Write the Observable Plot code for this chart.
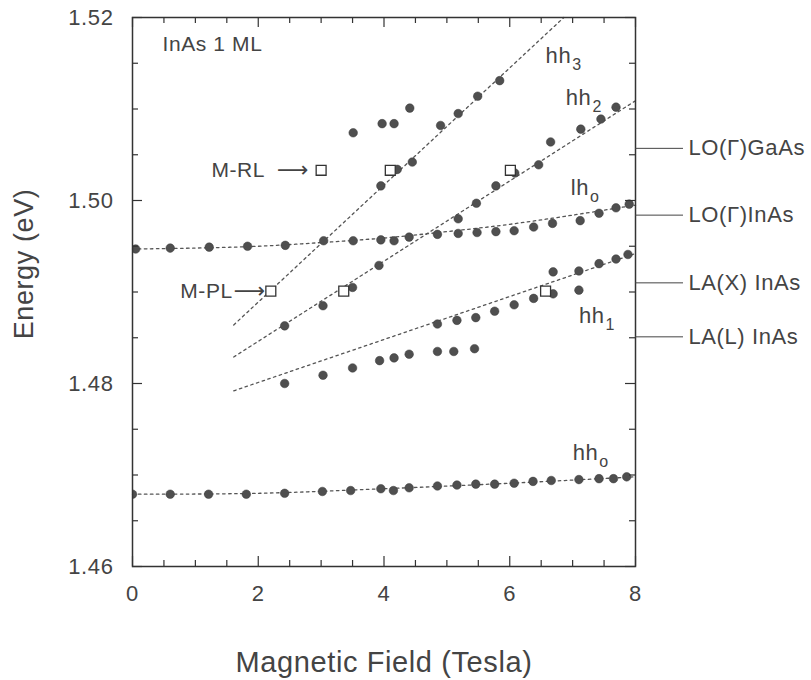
<!DOCTYPE html>
<html>
<head>
<meta charset="utf-8">
<script src="https://cdn.jsdelivr.net/npm/d3@7"></script>
<script src="https://cdn.jsdelivr.net/npm/@observablehq/plot@0.6"></script>
<style>
  body { margin: 0; background: #fff; }
</style>
</head>
<body>
<div id="chart"></div>
<script>
// ---- data ----
const hh0B = [0, 0.60, 1.21, 1.81, 2.42, 3.02, 3.47, 3.95, 4.15, 4.40, 4.85, 5.16, 5.46, 5.76, 6.07, 6.37, 6.66, 7.10, 7.42, 7.65, 7.86];
const hh0E = [1.4679, 1.4679, 1.4679, 1.4679, 1.4680, 1.4682, 1.4683, 1.4685, 1.4683, 1.4686, 1.4688, 1.4689, 1.4690, 1.4690, 1.4691, 1.4693, 1.4694, 1.4695, 1.4696, 1.4696, 1.4698];

const lh0B = [0.05, 0.60, 1.22, 1.83, 2.43, 3.04, 3.51, 3.95, 4.16, 4.40, 4.85, 5.18, 5.48, 5.78, 6.07, 6.38, 6.68, 7.12, 7.42, 7.69, 7.90];
const lh0E = [1.4947, 1.4948, 1.4949, 1.4950, 1.4951, 1.4956, 1.4956, 1.4957, 1.4956, 1.4960, 1.4963, 1.4964, 1.4965, 1.4966, 1.4967, 1.4971, 1.4975, 1.4978, 1.4986, 1.4992, 1.4996];

const hh1B = [2.42, 3.03, 3.50, 3.93, 4.16, 4.40, 4.85, 5.11, 5.44,
              4.85, 5.16, 5.46, 5.76, 6.07, 6.38, 6.69, 6.69, 7.10, 7.10, 7.42, 7.69, 7.88];
const hh1E = [1.4800, 1.4809, 1.4817, 1.4825, 1.4828, 1.4832, 1.4835, 1.4835, 1.4838,
              1.4865, 1.4869, 1.4872, 1.4879, 1.4886, 1.4893, 1.4898, 1.4922, 1.4902, 1.4923, 1.4931, 1.4936, 1.4941];

const hh2B = [2.42, 3.03, 3.50, 3.92, 5.18, 5.47, 5.78, 6.08, 6.46, 6.65, 7.13, 7.45, 7.69];
const hh2E = [1.4863, 1.4885, 1.4905, 1.4929, 1.4980, 1.4997, 1.5016, 1.5030, 1.5039, 1.5064, 1.5078, 1.5089, 1.5102];

const hh3B = [3.95, 4.21, 4.45, 4.90, 5.18, 5.49, 5.84, 3.51, 3.97, 4.16, 4.41];
const hh3E = [1.5016, 1.5034, 1.5042, 1.5082, 1.5095, 1.5114, 1.5131, 1.5074, 1.5084, 1.5084, 1.5101];

// open squares: magneto-reflectance and magneto-PL resonances
const mrlB = [3.00, 4.10, 6.01];
const mrlE = [1.5033, 1.5033, 1.5033];
const mplB = [2.20, 3.36, 6.57];
const mplE = [1.4901, 1.4901, 1.4901];

// dotted fit curves
const hh0FitB = [0, 2, 4, 6, 8];
const hh0FitE = [1.4679, 1.4680, 1.4685, 1.4691, 1.4698];
const lh0FitB = [0, 1, 2, 3, 4, 5, 6, 7, 8];
const lh0FitE = [1.4947, 1.4948, 1.4950, 1.4954, 1.4959, 1.4966, 1.4974, 1.4984, 1.4995];
const hh1FitB = [1.61, 8];
const hh1FitE = [1.4792, 1.4942];
const hh2FitB = [1.61, 8];
const hh2FitE = [1.4829, 1.5109];
const hh3FitB = [1.61, 6.86];
const hh3FitE = [1.4864, 1.5200];

// phonon reference levels (right side)
const phononNames = ["LO(Γ)GaAs", "LO(Γ)InAs", "LA(X) InAs", "LA(L) InAs"];
const phononE = [1.5057, 1.4984, 1.4910, 1.4851];

// curve labels
const curveBase = ["hh", "hh", "lh", "hh", "hh"];
const curveSub = ["3", "2", "o", "1", "o"];
const curveLabB = [6.57, 6.89, 6.97, 7.10, 7.00];
const curveLabE = [1.5158, 1.5112, 1.5014, 1.4874, 1.4724];

// annotations (attached to the first square of each set)
const annotText = ["M-RL", "M-PL"];
const annotArrow = "⟶";
const annotB = [mrlB[0], mplB[0]];
const annotE = [mrlE[0], mplE[0]];
const annotTextDx = [-56, -38];
const annotArrowDx = [-12, -5];

// axes
const xTicks = [0, 2, 4, 6, 8];
const xMinor = [0.5, 1, 1.5, 2.5, 3, 3.5, 4.5, 5, 5.5, 6.5, 7, 7.5];
const yTicks = [1.46, 1.48, 1.50, 1.52];
const yMinor = [1.465, 1.47, 1.475, 1.485, 1.49, 1.495, 1.505, 1.51, 1.515];
const xTitle = "Magnetic Field (Tesla)";
const yTitle = "Energy (eV)";
const sampleLabel = "InAs 1 ML";

// ---- layout ----
const W = 811, H = 680;
const mL = 132, mR = 176, mT = 17, mB = 114;
const innerW = W - mL - mR, innerH = H - mT - mB;

const rows = (bs, es) => bs.map((b, i) => ({B: b, E: es[i]}));
const ink = "#444";
const dotFill = "#4f4f4f";
const fit = {x: "B", y: "E", stroke: "#555", strokeWidth: 1.3, strokeDasharray: "2.5,3.5"};
const dotOpts = {x: "B", y: "E", r: 4.3, fill: dotFill, stroke: "#3a3a3a", strokeWidth: 0.5, clip: true};
const tickStyle = {stroke: "#333", strokeWidth: 1.2};

const phononRows = phononNames.map((n, i) => ({name: n, E: phononE[i]}));
const curveRows = curveBase.map((t, i) => ({t, B: curveLabB[i], E: curveLabE[i]}));
const annotRows = annotText.map((t, i) => ({t, B: annotB[i], E: annotE[i]}));

const svg = Plot.plot({
  width: W, height: H,
  marginLeft: mL, marginRight: mR, marginTop: mT, marginBottom: mB,
  x: {domain: [0, 8]},
  y: {domain: [1.46, 1.52]},
  style: {fontFamily: "'Liberation Sans', Arial, sans-serif", fontSize: "21px", color: ink, background: "#fff", letterSpacing: "0.6px"},
  marks: [
    // fits
    Plot.line(rows(hh0FitB, hh0FitE), {...fit, curve: "catmull-rom"}),
    Plot.line(rows(lh0FitB, lh0FitE), {...fit, curve: "catmull-rom"}),
    Plot.line(rows(hh1FitB, hh1FitE), fit),
    Plot.line(rows(hh2FitB, hh2FitE), fit),
    Plot.line(rows(hh3FitB, hh3FitE), fit),
    // data
    Plot.dot(rows(hh0B, hh0E), dotOpts),
    Plot.dot(rows(lh0B, lh0E), dotOpts),
    Plot.dot(rows(hh1B, hh1E), dotOpts),
    Plot.dot(rows(hh2B, hh2E), dotOpts),
    Plot.dot(rows(hh3B, hh3E), dotOpts),
    Plot.dot(rows(mrlB, mrlE), {x: "B", y: "E", symbol: "square", r: 5.6, fill: "#fff", stroke: "#333", strokeWidth: 1.3}),
    Plot.dot(rows(mplB, mplE), {x: "B", y: "E", symbol: "square", r: 5.6, fill: "#fff", stroke: "#333", strokeWidth: 1.3}),
    // frame + inward ticks
    Plot.frame({stroke: "#333", strokeWidth: 1.5}),
    Plot.tickX(xTicks, {...tickStyle, insetTop: innerH - 10}),
    Plot.tickX(xTicks, {...tickStyle, insetBottom: innerH - 10}),
    Plot.tickX(xMinor, {...tickStyle, insetTop: innerH - 6}),
    Plot.tickX(xMinor, {...tickStyle, insetBottom: innerH - 6}),
    Plot.tickY(yTicks, {...tickStyle, insetRight: innerW - 10}),
    Plot.tickY(yTicks, {...tickStyle, insetLeft: innerW - 10}),
    Plot.tickY(yMinor, {...tickStyle, insetRight: innerW - 6}),
    Plot.tickY(yMinor, {...tickStyle, insetLeft: innerW - 6}),
    // axes labels
    Plot.axisX({ticks: xTicks, tickSize: 0, tickPadding: 19, tickFormat: d => String(d), fontSize: 22, label: null}),
    Plot.axisY({ticks: yTicks, tickSize: 0, tickPadding: 19, tickFormat: d3.format(".2f"), fontSize: 22, label: null}),
    Plot.text([xTitle], {text: d => d, frameAnchor: "bottom", dy: 96, textAnchor: "middle", lineAnchor: "middle", fontSize: 29, fill: ink}),
    Plot.text([yTitle], {text: d => d, frameAnchor: "left", dx: -108, dy: -28, rotate: -90, textAnchor: "middle", lineAnchor: "middle", fontSize: 27, fill: ink}),
    Plot.text([sampleLabel], {text: d => d, frameAnchor: "top-left", dx: 30, dy: 27, textAnchor: "start", lineAnchor: "middle", fontSize: 21, fill: ink}),
    // phonon markers on the right
    Plot.tickY(phononRows, {y: "E", insetLeft: innerW, insetRight: -48, stroke: "#444", strokeWidth: 1}),
    Plot.text(phononRows, {y: "E", text: "name", frameAnchor: "right", dx: 53, textAnchor: "start", lineAnchor: "middle", fontSize: 22, fill: ink}),
    // curve labels
    Plot.text(curveRows, {x: "B", y: "E", text: "t", textAnchor: "start", lineAnchor: "middle", fontSize: 22, fill: ink}),
    // annotations
    Plot.text(annotRows.slice(0, 1), {x: "B", y: "E", text: "t", textAnchor: "end", lineAnchor: "middle", dx: annotTextDx[0], fontSize: 21, fill: ink}),
    Plot.text(annotRows.slice(1, 2), {x: "B", y: "E", text: "t", textAnchor: "end", lineAnchor: "middle", dx: annotTextDx[1], fontSize: 21, fill: ink}),
    Plot.text(annotRows.slice(0, 1), {x: "B", y: "E", text: () => annotArrow, textAnchor: "end", lineAnchor: "middle", dx: annotArrowDx[0], fontSize: 22, fontFamily: "'DejaVu Sans'", fill: ink}),
    Plot.text(annotRows.slice(1, 2), {x: "B", y: "E", text: () => annotArrow, textAnchor: "end", lineAnchor: "middle", dx: annotArrowDx[1], fontSize: 22, fontFamily: "'DejaVu Sans'", fill: ink})
  ]
});

// subscripts for curve labels (hh3, hh2, lh0, hh1, hh0 in order)
let k = 0;
d3.select(svg).selectAll("text").each(function() {
  const t = this.textContent;
  if (k < curveBase.length && t === curveBase[k] && this.children.length === 0) {
    d3.select(this).append("tspan")
      .attr("dy", "0.45em")
      .attr("dx", "1")
      .attr("font-size", "16px")
      .text(curveSub[k]);
    k++;
  }
});

document.getElementById("chart").appendChild(svg);
</script>
</body>
</html>
